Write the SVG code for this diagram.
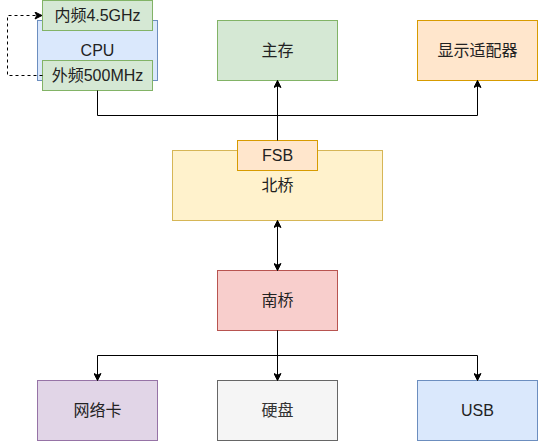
<svg xmlns="http://www.w3.org/2000/svg" width="538" height="441" viewBox="0 0 538 441">
<style>
text{font-family:"Liberation Sans","Noto Sans CJK SC",Arial,sans-serif;font-size:16px;fill:#222;text-anchor:middle;dominant-baseline:central}
.e{fill:none;stroke:#000;stroke-width:1}
.green{fill:#d5e8d4;stroke:#82b366}
.blue{fill:#dae8fc;stroke:#6c8ebf}
.orange{fill:#ffe6cc;stroke:#d79b00}
.yellow{fill:#fff2cc;stroke:#d6b656}
.red{fill:#f8cecc;stroke:#b85450}
.purple{fill:#e1d5e7;stroke:#9673a6}
.gray{fill:#f5f5f5;stroke:#666666}
</style>
<defs>
<marker id="arr" viewBox="-8 -4 9 8" refX="0" refY="0" markerWidth="9" markerHeight="8" orient="auto-start-reverse" markerUnits="userSpaceOnUse">
<path d="M0,0 L-7,-3.5 L-5.25,0 L-7,3.5 Z" fill="#000" stroke="#000" stroke-width="1"/>
</marker>
</defs>
<g id="cpu"><rect class="blue" x="37.5" y="20.5" width="120" height="60"/><text x="97.5" y="50.5">CPU</text></g>
<g id="neipin"><rect class="green" x="42.5" y="0.5" width="110" height="30"/><text x="97.5" y="15.5">内频4.5GHz</text></g>
<g id="waipin"><rect class="green" x="42.5" y="60.5" width="110" height="30"/><text x="97.5" y="75.5">外频500MHz</text></g>
<g id="zhucun"><rect class="green" x="217.5" y="20.5" width="120" height="60"/><text x="277.5" y="50.5">主存</text></g>
<g id="xianshi"><rect class="orange" x="417.5" y="20.5" width="120" height="60"/><text x="477.5" y="50.5">显示适配器</text></g>
<g id="beiqiao"><rect class="yellow" x="172.5" y="150.5" width="210" height="70"/><text x="277.5" y="185.5">北桥</text></g>
<g id="fsb"><rect class="orange" x="237.5" y="140.5" width="80" height="30"/><text x="277.5" y="155.5">FSB</text></g>
<g id="nanqiao"><rect class="red" x="217.5" y="270.5" width="120" height="60"/><text x="277.5" y="300.5">南桥</text></g>
<g id="wangluo"><rect class="purple" x="37.5" y="380.5" width="120" height="60"/><text x="97.5" y="410.5">网络卡</text></g>
<g id="yingpan"><rect class="gray" x="217.5" y="380.5" width="120" height="60"/><text x="277.5" y="410.5" style="fill:#333333">硬盘</text></g>
<g id="usb"><rect class="blue" x="417.5" y="380.5" width="120" height="60"/><text x="477.5" y="410.5">USB</text></g>
<g id="connectors">
<path class="e" d="M42.5,75.5 H7.5 V15.5 H42" stroke-dasharray="3 3" marker-end="url(#arr)"/>
<path class="e" d="M97.5,90.5 V115.5 H477.5 V80.5" marker-end="url(#arr)"/>
<path class="e" d="M277.5,140.5 V80.5" marker-end="url(#arr)"/>
<path class="e" d="M277.5,220.5 V270.5" marker-start="url(#arr)" marker-end="url(#arr)"/>
<path class="e" d="M277.5,330.5 V355.5 H97.5 V380.5" marker-end="url(#arr)"/>
<path class="e" d="M277.5,330.5 V380.5" marker-end="url(#arr)"/>
<path class="e" d="M277.5,355.5 H477.5 V380.5" marker-end="url(#arr)"/>
</g>
</svg>
